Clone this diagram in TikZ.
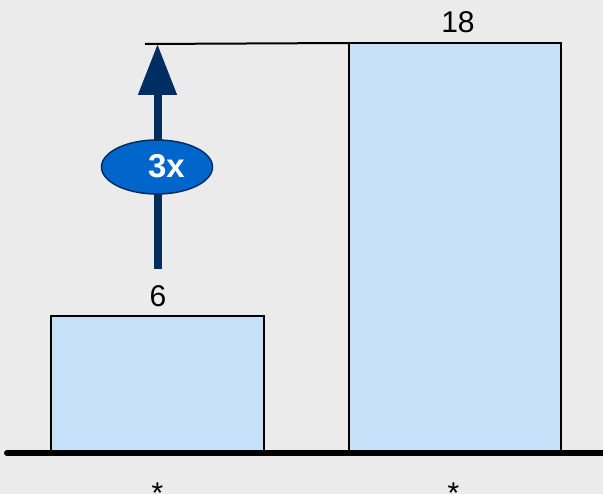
\documentclass[tikz,border=0pt]{standalone}
\usepackage{fontspec}
\setmainfont{Liberation Sans}
\usetikzlibrary{arrows.meta,shapes.geometric}
\definecolor{bgc}{HTML}{EBEBEB}
\definecolor{barfill}{HTML}{C6E0F9}
\definecolor{navy}{HTML}{002D62}
\definecolor{ellfill}{HTML}{0066CC}
\tikzset{
  bar/.style={draw=black, line width=2pt, fill=barfill, inner sep=0pt, outer sep=0pt, anchor=south west},
  vallabel/.style={font=\fontsize{30}{36}\selectfont, text=black, inner sep=0pt, anchor=base},
  factor/.style={ellipse, draw=navy, line width=1.5pt, fill=ellfill, minimum width=111pt, minimum height=54pt, inner sep=0pt},
  factortext/.style={font=\fontsize{33}{38}\selectfont\bfseries, text=white, inner sep=0pt, anchor=base},
  growth/.style={draw=navy, line width=8pt, -{Triangle[width=37pt,length=51pt]}},
}
\begin{document}
\begin{tikzpicture}[x=1pt,y=-1pt]
\fill[bgc] (0,0) rectangle (603,494);
\useasboundingbox (0,0) rectangle (603,494);
% bars
\node[bar, minimum width=213pt, minimum height=137pt] (b1) at (51,453) {};
\node[bar, minimum width=212pt, minimum height=410pt] (b2) at (349,453) {};
% axis
\coordinate (axl) at (7,453);
\coordinate (axr) at (615,453);
\draw[line width=6pt, line cap=round] (axl) -- (axr);
% value labels
\node[vallabel] (v1) at (158,307) {6};
\node[vallabel] (v2) at (458,33) {18};
% category labels
\node[vallabel] (c1) at (157.5,503.5) {*};
\node[vallabel] (c2) at (453.5,503.5) {*};
% reference line
\coordinate (reft) at (145,44);
\draw[line width=2pt] (reft) -- (b2.north west);
% growth arrow
\coordinate (arrb) at (157.5,269);
\coordinate (arrt) at (157.5,44);
\draw[growth] (arrb) -- (arrt);
\node[factor] (f) at (157,167) {};
\node[factortext] (ft) at (166.5,178) {3x};
\end{tikzpicture}
\end{document}
